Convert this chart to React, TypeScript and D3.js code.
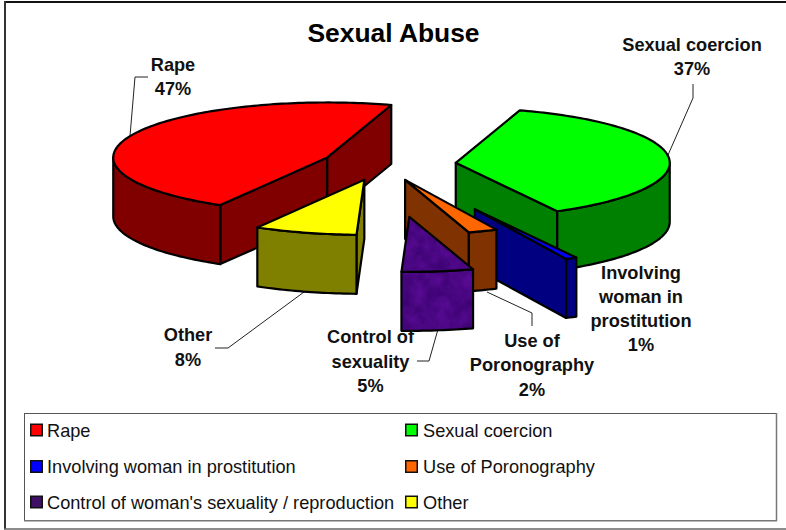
import React from "react";
import * as d3 from "d3";

const W = 786;
const H = 530;

// Data
const title = "Sexual Abuse";
const categories = ["Rape", "Sexual coercion", "Involving woman in prostitution", "Use of Poronography", "Control of woman's sexuality / reproduction", "Other"];
const values = [46.5, 37.3, 0.85, 2.2, 5.4, 7.75];
const sliceLabels = [["Rape"], ["Sexual coercion"], ["Involving", "woman in", "prostitution"], ["Use of", "Poronography"], ["Control of", "sexuality"], ["Other"]];
const topColors = ["#ff0000", "#00ff00", "#0000ff", "#ff6600", "#4b1580", "#ffff00"];
const sideColors = ["#800000", "#008000", "#000080", "#803300", "#4b1580", "#808000"];
const legendSwatch = ["#ff0000", "#00ff00", "#0000ff", "#ff6600", "#3f0f66", "#ffff00"];

// Layout of the exploded 3D pie
const centre = { x: 388, y: 164.5 };
const rx = 214;
const ry = 55;
const depth = 59;
const startDeg = 210;
const explodeX = [0.31, 0.318, 0.9, 0.22, 0.75, 0.4];
const explodeY = [0.318, 0.318, 0.91, 0.3, 0.96, 0.29];
const paintOrder = [0, 1, 2, 3, 5, 4];

// Label layout: centre x, first baseline, line step
const labelPos = [
  { x: 173, y: 71, step: 23.5 },
  { x: 692, y: 51, step: 24 },
  { x: 641, y: 278.5, step: 24 },
  { x: 532, y: 346.5, step: 24.5 },
  { x: 370.5, y: 343, step: 24.5 },
  { x: 188, y: 341, step: 24.5 },
];
const leaders: [number, number][][] = [
  [[130, 136], [135, 77], [148, 77]],
  [[668, 155], [693, 98], [693, 84]],
  [],
  [[487, 292], [532, 313], [532, 326]],
  [[437.5, 331], [429, 361], [417, 361]],
  [[304, 292], [228, 348], [215, 348]],
];

const legendRows = [430, 466.5, 502];
const legendCols = [30, 405];

const pieGen = d3.pie<number>().sort(null).startAngle((startDeg * Math.PI) / 180).endAngle(((startDeg + 360) * Math.PI) / 180);
const arcs = pieGen(values);
const pct = d3.format(".0f");
const total = d3.sum(values);
const lineGen = d3.line<[number, number]>();

function pt(c: { x: number; y: number }, a: number, z = 0): [number, number] {
  return [c.x + rx * Math.sin(a), c.y - ry * Math.cos(a) + z];
}
function arcPts(c: { x: number; y: number }, a0: number, a1: number, z = 0): [number, number][] {
  const n = Math.max(2, Math.ceil(Math.abs(a1 - a0) / 0.02));
  return d3.range(n + 1).map((i) => pt(c, a0 + ((a1 - a0) * i) / n, z));
}

function Slice({ i }: { i: number }) {
  const a = arcs[i];
  const mid = (a.startAngle + a.endAngle) / 2;
  const c = {
    x: centre.x + explodeX[i] * rx * Math.sin(mid),
    y: centre.y - explodeY[i] * ry * Math.cos(mid),
  };
  const textured = i === 4;
  const faces: string[] = [];
  const v0: [number, number] = [c.x, c.y];
  const v1: [number, number] = [c.x, c.y + depth];
  const radial = (ang: number) => lineGen([v0, pt(c, ang), pt(c, ang, depth), v1]) + "Z";
  // radial face at the slice start faces the viewer when its normal points down the screen
  if (Math.cos(a.startAngle - Math.PI / 2) < 0) faces.push(radial(a.startAngle));
  if (Math.cos(a.endAngle + Math.PI / 2) < 0) faces.push(radial(a.endAngle));
  // outer wall, only the near half of the ellipse
  [0, 2 * Math.PI].forEach((k) => {
    const lo = Math.max(a.startAngle, Math.PI / 2 + k);
    const hi = Math.min(a.endAngle, (3 * Math.PI) / 2 + k);
    if (hi > lo) {
      const topEdge = arcPts(c, lo, hi);
      const botEdge = arcPts(c, hi, lo, depth);
      faces.push(lineGen([...topEdge, ...botEdge]) + "Z");
    }
  });
  const topPath = lineGen([v0, ...arcPts(c, a.startAngle, a.endAngle)]) + "Z";
  const stroke = { stroke: "#000", strokeWidth: 2.2, strokeLinejoin: "round" as const, fill: "none" };
  return (
    <g>
      {faces.map((d, k) => (
        <g key={k}>
          <path d={d} fill={sideColors[i]} filter={textured ? "url(#mottle)" : undefined} />
          <path d={d} {...stroke} />
        </g>
      ))}
      <path d={topPath} fill={topColors[i]} filter={textured ? "url(#mottle)" : undefined} />
      <path d={topPath} {...stroke} />
    </g>
  );
}

export default function App() {
  const font = "'Liberation Sans', Arial, sans-serif";
  return (
    <svg width={W} height={H} viewBox={`0 0 ${W} ${H}`} style={{ position: "absolute", left: 0, top: 0, background: "#fff" }} fontFamily={font}>
      <defs>
        <filter id="mottle" x="-5%" y="-5%" width="110%" height="110%" colorInterpolationFilters="sRGB">
          <feTurbulence type="fractalNoise" baseFrequency="0.08" numOctaves={3} seed={4} result="n" />
          <feColorMatrix in="n" type="matrix" values="0.5 0 0 0 0  0.15 0 0 0 0  0.6 0 0 0 0  0 0 0 0 1" result="c" />
          <feComposite in="SourceGraphic" in2="c" operator="arithmetic" k1={0} k2={1} k3={0.3} k4={-0.08} result="m" />
          <feComposite in="m" in2="SourceGraphic" operator="in" />
        </filter>
      </defs>

      {/* outer frame */}
      <line x1={4} x2={W} y1={2} y2={2} stroke="#111" strokeWidth={2} />
      <line x1={5} x2={5} y1={1} y2={529} stroke="#333" strokeWidth={2} />
      <line x1={4} x2={W} y1={529} y2={529} stroke="#666" strokeWidth={1.5} />

      <text x={393.5} y={42} textAnchor="middle" fontSize={26.4} fontWeight="bold" fill="#000">{title}</text>

      {leaders.map((l, i) =>
        l.length ? <path key={i} d={lineGen(l) as string} fill="none" stroke="#222" strokeWidth={1} /> : null
      )}

      {paintOrder.map((i) => <Slice key={i} i={i} />)}

      {sliceLabels.map((lines, i) => {
        const p = labelPos[i];
        const all = [...lines, `${pct((values[i] / total) * 100)}%`];
        return (
          <text key={i} textAnchor="middle" fontSize={18.2} fontWeight="bold" fill="#111">
            {all.map((t, j) => <tspan key={j} x={p.x} y={p.y + j * p.step}>{t}</tspan>)}
          </text>
        );
      })}

      {/* legend */}
      <rect x={24.5} y={413.5} width={752} height={107} fill="#fff" stroke="#555" strokeWidth={1} />
      <line x1={776.5} x2={776.5} y1={413} y2={521} stroke="#777" strokeWidth={1.5} />
      <line x1={24} x2={777} y1={520.8} y2={520.8} stroke="#777" strokeWidth={1.5} />
      {categories.map((name, i) => {
        const col = i % 2;
        const row = Math.floor(i / 2);
        const x = legendCols[col];
        const y = legendRows[row];
        return (
          <g key={name}>
            <rect x={x + 0.75} y={y - 5.75} width={11.5} height={11.5} fill={legendSwatch[i]} stroke="#111" strokeWidth={1.5} />
            <text x={x + 17 + col} y={y + 6.5} fontSize={18.2} fill="#111">{name}</text>
          </g>
        );
      })}
    </svg>
  );
}
